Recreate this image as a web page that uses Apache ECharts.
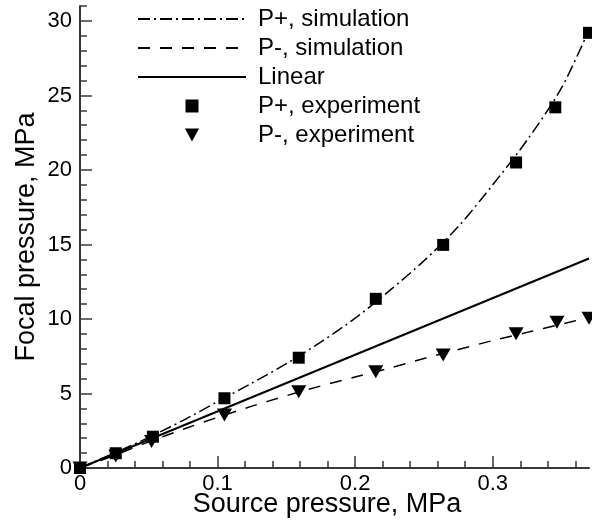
<!DOCTYPE html>
<html>
<head>
<meta charset="utf-8">
<script src="https://cdn.jsdelivr.net/npm/echarts@6/dist/echarts.min.js"></script>
<style>
html,body{margin:0;padding:0;background:#fff;}
#chart{width:592px;height:524px;}
</style>
</head>
<body>
<div id="chart"></div>
<script>
// Simulation curves (source pressure, MPa -> focal pressure, MPa)
var xSim = [0, 0.025, 0.05, 0.075, 0.1, 0.125, 0.15, 0.175, 0.2, 0.225, 0.25, 0.275, 0.3, 0.325, 0.35, 0.37];
var pPlusSim = [0, 1.0, 2.05, 3.2, 4.45, 5.7, 7.0, 8.45, 10.05, 11.9, 13.9, 16.2, 19.0, 22.0, 25.5, 29.4];
var pMinusSim = [0, 0.85, 1.75, 2.6, 3.4, 4.15, 4.85, 5.5, 6.1, 6.7, 7.35, 7.95, 8.55, 9.1, 9.65, 10.1];
// Linear reference
var xLinear = [0, 0.37];
var pLinear = [0, 14.06];
// Experiments
var xExpPlus = [0, 0.026, 0.053, 0.105, 0.159, 0.215, 0.264, 0.317, 0.3455, 0.37];
var pPlusExp = [0, 0.99, 2.1, 4.68, 7.4, 11.35, 14.97, 20.5, 24.2, 29.2];
var xExpMinus = [0, 0.026, 0.052, 0.105, 0.159, 0.215, 0.264, 0.317, 0.3467, 0.37];
var pMinusExp = [0, 0.8, 1.77, 3.56, 5.12, 6.46, 7.58, 9.0, 9.78, 10.05];
// Names
var seriesNames = ['P+, simulation', 'P-, simulation', 'Linear', 'P+, experiment', 'P-, experiment'];
var xAxisTitle = 'Source pressure, MPa';
var yAxisTitle = 'Focal pressure, MPa';

function pairs(xs, ys) { return xs.map(function (x, i) { return [x, ys[i]]; }); }

var FONT = '"Liberation Sans", Arial, Helvetica, sans-serif';
var AX = '#383838';
var hideSym = {color: 'rgba(0,0,0,0)', borderColor: 'rgba(0,0,0,0)', borderWidth: 0};
var noTick = {show: false};

var chart = echarts.init(document.getElementById('chart'), null, {renderer: 'canvas'});
chart.setOption({
  animation: false,
  backgroundColor: '#fff',
  textStyle: {fontFamily: FONT},
  grid: [
    // data grid (axis lines + titles)
    {left: 80, top: 6, right: 3, bottom: 56, containLabel: false},
    // minor ticks grid
    {left: 80, top: 6, right: 16.7, bottom: 56, containLabel: false},
    // major ticks + labels grid
    {left: 80, top: 21, right: 99.3, bottom: 56, containLabel: false}
  ],
  legend: {
    orient: 'vertical',
    left: 132,
    top: 2,
    itemWidth: 108,
    itemHeight: 13,
    itemGap: 5,
    symbolKeepAspect: true,
    data: [
      {name: seriesNames[0], itemStyle: hideSym},
      {name: seriesNames[1], itemStyle: hideSym},
      {name: seriesNames[2], itemStyle: hideSym},
      {name: seriesNames[3]},
      {name: seriesNames[4]}
    ],
    textStyle: {fontFamily: FONT, fontSize: 24, lineHeight: 24, color: '#000', padding: [0, 0, 0, 7]}
  },
  xAxis: [
    {
      type: 'value', gridIndex: 0, min: 0, max: 0.37,
      axisLine: {show: true, onZero: false, lineStyle: {color: AX, width: 2}},
      axisTick: noTick, axisLabel: {show: false}, splitLine: {show: false},
      name: xAxisTitle, nameLocation: 'middle', nameGap: 23,
      nameTextStyle: {fontFamily: FONT, fontSize: 27, color: '#000', padding: [0, 15, 0, 0]}
    },
    {
      type: 'value', gridIndex: 1, min: 0, max: 0.36, interval: 0.02,
      axisLine: {show: false, onZero: false},
      axisTick: {show: true, inside: true, length: 7, lineStyle: {color: AX, width: 1.5}},
      axisLabel: {show: false}, splitLine: {show: false}
    },
    {
      type: 'value', gridIndex: 2, min: 0, max: 0.3, interval: 0.1,
      axisLine: {show: false, onZero: false},
      axisTick: {show: true, inside: true, length: 12, lineStyle: {color: AX, width: 1.5}},
      axisLabel: {show: true, fontFamily: FONT, fontSize: 22, color: '#000', margin: 5},
      splitLine: {show: false}
    }
  ],
  yAxis: [
    {
      type: 'value', gridIndex: 0, min: 0, max: 31,
      axisLine: {show: true, onZero: false, lineStyle: {color: AX, width: 2}},
      axisTick: noTick, axisLabel: {show: false}, splitLine: {show: false},
      name: yAxisTitle, nameLocation: 'middle', nameGap: 40,
      nameTextStyle: {fontFamily: FONT, fontSize: 27, color: '#000'}
    },
    {
      type: 'value', gridIndex: 1, min: 0, max: 31, interval: 1,
      axisLine: {show: false, onZero: false},
      axisTick: {show: true, inside: true, length: 7, lineStyle: {color: AX, width: 1.5}},
      axisLabel: {show: false}, splitLine: {show: false}
    },
    {
      type: 'value', gridIndex: 2, min: 0, max: 30, interval: 5,
      axisLine: {show: false, onZero: false},
      axisTick: {show: true, inside: true, length: 12, lineStyle: {color: AX, width: 1.5}},
      axisLabel: {show: true, fontFamily: FONT, fontSize: 22, color: '#000', margin: 8},
      splitLine: {show: false}
    }
  ],
  series: [
    {
      name: seriesNames[0], type: 'line', xAxisIndex: 0, yAxisIndex: 0,
      data: pairs(xSim, pPlusSim), smooth: 0.3, symbol: 'none', z: 3,
      lineStyle: {color: '#000', width: 1.5, type: [12, 4, 2, 4]},
      itemStyle: {color: '#000'}
    },
    {
      name: seriesNames[1], type: 'line', xAxisIndex: 0, yAxisIndex: 0,
      data: pairs(xSim, pMinusSim), smooth: 0.3, symbol: 'none', z: 3,
      lineStyle: {color: '#000', width: 1.5, type: [12, 10]},
      itemStyle: {color: '#000'}
    },
    {
      name: seriesNames[2], type: 'line', xAxisIndex: 0, yAxisIndex: 0,
      data: pairs(xLinear, pLinear), symbol: 'none', z: 3,
      lineStyle: {color: '#000', width: 2, type: 'solid'},
      itemStyle: {color: '#000'}
    },
    {
      name: seriesNames[3], type: 'scatter', xAxisIndex: 0, yAxisIndex: 0,
      data: pairs(xExpPlus, pPlusExp), z: 5, clip: false,
      symbol: 'path://M0,0L10,0L10,10L0,10Z', symbolSize: 12,
      itemStyle: {color: '#000', opacity: 1}
    },
    {
      name: seriesNames[4], type: 'scatter', xAxisIndex: 0, yAxisIndex: 0,
      data: pairs(xExpMinus, pMinusExp), z: 4, clip: false,
      symbol: 'path://M0,0L12,0L6,11Z', symbolSize: [15, 13],
      itemStyle: {color: '#000', opacity: 1}
    }
  ]
});
</script>
</body>
</html>
